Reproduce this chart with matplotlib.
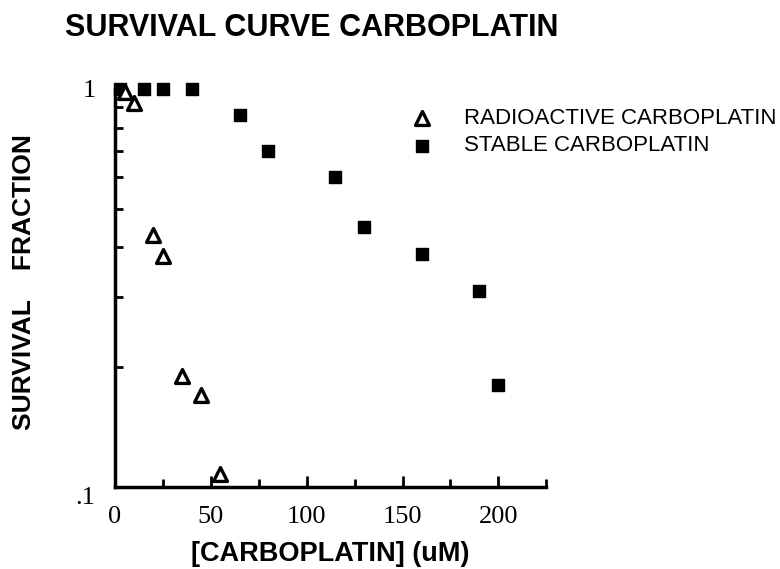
import matplotlib
matplotlib.use("Agg")
import matplotlib.pyplot as plt
from matplotlib.ticker import FixedLocator, NullFormatter

# radioactive carboplatin (triangles)
radio_x = [5, 10, 20, 25, 35, 45, 55]
radio_y = [0.98, 0.92, 0.43, 0.38, 0.19, 0.17, 0.108]

# stable carboplatin (squares)
stable_x = [2.5, 15, 25, 40, 65, 80, 115, 130, 160, 190, 200]
stable_y = [1.0, 1.0, 1.0, 1.0, 0.86, 0.70, 0.60, 0.45, 0.385, 0.31, 0.18]

x_major = [0, 50, 100, 150, 200]
x_minor = [25, 75, 125, 175, 225]
y_major = [0.1, 1]
y_major_labels = [".1", "1"]
y_minor = [0.2, 0.3, 0.4, 0.5, 0.6, 0.7, 0.8, 0.9]

sans = "Liberation Sans"
serif = "Liberation Serif"

fig = plt.figure(figsize=(7.8, 5.69), dpi=100)
ax = fig.add_axes([0.1474, 0.1441, 0.553, 0.6995])

ax.set_yscale("log")
ax.set_xlim(0, 225)
ax.set_ylim(0.1, 1)

ax.scatter(radio_x, radio_y, marker="^", s=100, facecolors="white",
           edgecolors="black", linewidths=2.4, clip_on=False, zorder=3,
           label="RADIOACTIVE CARBOPLATIN")
ax.scatter(stable_x, stable_y, marker="s", s=85, color="black",
           clip_on=False, zorder=2, label="STABLE CARBOPLATIN")

for s in ["top", "right"]:
    ax.spines[s].set_visible(False)
for s in ["left", "bottom"]:
    ax.spines[s].set_linewidth(2.5)

ax.xaxis.set_major_locator(FixedLocator(x_major))
ax.xaxis.set_minor_locator(FixedLocator(x_minor))
ax.yaxis.set_major_locator(FixedLocator(y_major))
ax.yaxis.set_minor_locator(FixedLocator(y_minor))
ax.set_yticklabels(y_major_labels)
ax.yaxis.set_minor_formatter(NullFormatter())

ax.tick_params(axis="both", which="major", direction="in", length=8, width=2,
               labelsize=19, pad=14)
ax.tick_params(axis="both", which="minor", direction="in", length=6, width=2)
ax.tick_params(axis="y", which="major", length=0, pad=14)
for lab in ax.get_xticklabels() + ax.get_yticklabels():
    lab.set_fontfamily(serif)
ax.get_yticklabels()[0].set_va("top")

ax.set_xlabel("[CARBOPLATIN] (uM)", fontfamily=sans, fontweight="bold",
              fontsize=19.5, labelpad=9)
fig.text(0.031, 0.504, "SURVIVAL    FRACTION", fontfamily=sans,
         fontweight="bold", fontsize=19, rotation=90, ha="center",
         va="center")
fig.text(0.083, 0.951, "SURVIVAL CURVE CARBOPLATIN", fontfamily=sans,
         fontweight="bold", fontsize=22, ha="left", va="center")

leg = ax.legend(loc="upper left", bbox_to_anchor=(0.64, 0.975), frameon=False,
                prop={"family": sans, "size": 16}, handletextpad=0.9,
                labelspacing=0.3, borderaxespad=0)

fig.savefig("out.png", dpi=100, facecolor="white")
